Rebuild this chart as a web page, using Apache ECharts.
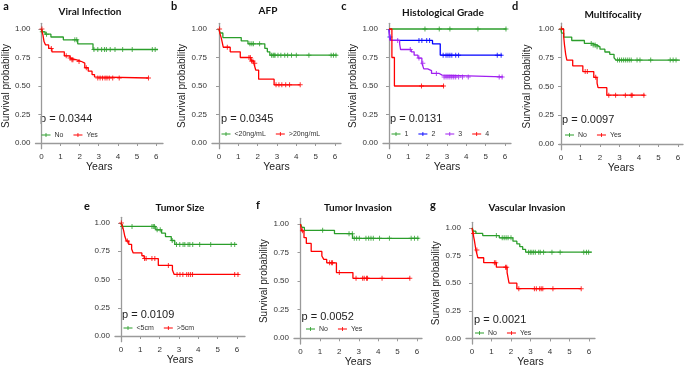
<!DOCTYPE html>
<html>
<head>
<meta charset="utf-8">
<script src="https://cdn.jsdelivr.net/npm/echarts@6/dist/echarts.min.js"></script>
<style>
  html, body { margin: 0; padding: 0; background: #fff; }
  #main { width: 685px; height: 369px; }
</style>
</head>
<body>
<div id="main"></div>
<script>
// axis ticks
var xTicks = [0, 1, 2, 3, 4, 5, 6];
var yTicks = [0, 0.25, 0.5, 0.75, 1];

// a - viral infection
var viralLabels = ['No', 'Yes'];
var viralNo = [[0,1],[0.03,0.975],[0.2,0.955],[0.5,0.93],[1.15,0.905],[1.9,0.87],[2.7,0.82],[6.1,0.82]];
var viralNoCens = [0.05,0.27,1.75,1.85,2.75,2.95,3.15,3.3,3.4,3.6,3.85,4.25,4.75,5.8,5.95];
var viralYes = [[0,1],[0.08,0.95],[0.14,0.89],[0.22,0.86],[0.38,0.83],[0.55,0.8],[1.2,0.765],[1.5,0.745],[1.6,0.73],[1.85,0.715],[2.1,0.7],[2.27,0.66],[2.45,0.63],[2.65,0.6],[2.78,0.58],[2.84,0.57],[5.6,0.57]];
var viralYesCens = [0.03,0.52,1.3,1.5,1.6,1.65,1.97,2.35,2.95,3.07,3.2,3.33,3.43,3.55,3.73,4.07,5.6];

// b - AFP
var afpLabels = ['<20ng/mL', '>20ng/mL'];
var afpLow = [[0,1],[0.05,0.965],[0.2,0.925],[1.15,0.895],[1.5,0.87],[2.37,0.83],[2.5,0.8],[2.63,0.77],[6.12,0.77]];
var afpLowCens = [1.6,1.7,1.78,2.1,2.72,2.8,2.85,2.9,3.05,3.2,3.4,3.55,3.75,4.0,4.65,5.8,5.92,6.05];
var afpHigh = [[0,1],[0.05,0.96],[0.12,0.92],[0.22,0.84],[0.58,0.8],[1.1,0.75],[1.65,0.72],[1.8,0.7],[1.9,0.64],[2.05,0.56],[2.85,0.51],[4.2,0.51]];
var afpHighCens = [0.03,0.43,1.55,1.62,1.68,1.75,1.85,2.95,3.1,3.25,3.45,3.65,4.2];

// c - histological grade
var gradeLabels = ['1', '2', '3', '4'];
var grade1 = [[0,1],[6.08,1]];
var grade1Cens = [1.86,2.6,3.15,4.6,6.05];
var grade2 = [[0,1],[0.03,0.93],[0.1,0.9],[2.25,0.87],[2.65,0.77],[5.85,0.77]];
var grade2Cens = [0.05,1.55,1.7,1.95,2.1,2.8,2.95,3.05,3.15,3.25,3.45,3.6,5.6,5.8];
var grade3 = [[0,1],[0.05,0.9],[0.55,0.87],[0.6,0.82],[1.15,0.8],[1.3,0.77],[1.5,0.745],[1.7,0.7],[1.8,0.65],[2.0,0.635],[2.2,0.61],[2.6,0.595],[2.75,0.58],[5.9,0.58]];
var grade3Cens = [0.45,1.1,1.55,1.75,2.45,2.85,2.95,3.05,3.15,3.25,3.35,3.45,3.6,3.8,4.1,5.7,5.85];
var grade4 = [[0,1],[0.15,0.75],[0.28,0.5],[2.85,0.5]];
var grade4Cens = [1.68,2.82];

// d - multifocality
var multiLabels = ['No', 'Yes'];
var multiNo = [[0,1],[0.03,0.965],[0.14,0.93],[0.55,0.9],[1.2,0.875],[1.6,0.86],[1.85,0.845],[2.0,0.825],[2.25,0.8],[2.5,0.78],[2.72,0.75],[2.82,0.73],[6.1,0.73]];
var multiNoCens = [0.02,1.55,1.65,1.75,1.85,2.9,3.0,3.1,3.2,3.3,3.4,3.5,3.6,3.9,4.05,4.6,5.6,5.75,5.9];
var multiYes = [[0,1],[0.14,0.93],[0.18,0.86],[0.24,0.78],[0.3,0.73],[0.6,0.68],[1.12,0.63],[1.68,0.58],[1.85,0.53],[1.9,0.49],[2.35,0.425],[4.3,0.425]];
var multiYesCens = [0.02,1.24,1.35,1.78,2.45,2.8,3.3,3.6,3.65,4.25];

// e - tumor size
var sizeLabels = ['<5cm', '>5cm'];
var sizeSmall = [[0,1],[0.05,0.97],[1.8,0.94],[2.1,0.91],[2.3,0.88],[2.6,0.845],[2.78,0.81],[6.0,0.81]];
var sizeSmallCens = [0.08,0.57,1.6,1.67,1.73,1.87,2.03,2.65,2.87,3.04,3.21,3.3,3.47,3.56,3.71,4.07,4.64,5.7,5.88];
var sizeLarge = [[0,1],[0.08,0.97],[0.14,0.93],[0.2,0.88],[0.28,0.84],[0.4,0.81],[0.55,0.77],[0.63,0.735],[1.08,0.71],[1.2,0.685],[1.93,0.625],[2.66,0.585],[2.75,0.545],[6.1,0.545]];
var sizeLargeCens = [0.02,0.33,1.22,1.3,1.6,1.75,2.45,2.9,3.05,3.2,3.4,3.5,3.6,3.7,5.88,6.05];

// f - tumor invasion
var tumInvLabels = ['No', 'Yes'];
var tumInvNo = [[0,1],[0.08,0.97],[0.2,0.945],[1.75,0.915],[2.68,0.875],[6.1,0.875]];
var tumInvNoCens = [1.14,2.5,2.67,2.77,2.89,3.03,3.37,3.51,3.63,3.75,4.07,4.58,5.7,5.87,6.04];
var tumInvYes = [[0,1],[0.05,0.94],[0.18,0.88],[0.3,0.83],[0.55,0.76],[1.1,0.72],[1.2,0.69],[1.35,0.66],[1.85,0.575],[2.7,0.525],[5.65,0.525]];
var tumInvYesCens = [0.1,1.5,1.6,1.65,2.0,2.86,3.2,3.28,3.4,3.45,4.2,5.63];

// g - vascular invasion
var vasInvLabels = ['No', 'Yes'];
var vasInvNo = [[0,1],[0.08,0.97],[0.2,0.95],[0.55,0.93],[1.4,0.91],[2.1,0.88],[2.3,0.855],[2.45,0.83],[2.6,0.805],[2.75,0.78],[6.15,0.78]];
var vasInvNoCens = [1.25,1.55,1.65,1.75,1.85,2.0,2.9,2.99,3.07,3.16,3.25,3.42,3.5,3.67,4.1,4.52,5.73,5.87,5.98];
var vasInvYes = [[0,1],[0.05,0.95],[0.12,0.89],[0.2,0.8],[0.3,0.73],[0.6,0.685],[1.25,0.645],[1.8,0.595],[1.9,0.5],[2.3,0.45],[5.6,0.45]];
var vasInvYesCens = [0.08,0.25,1.15,1.22,1.72,1.78,2.4,3.2,3.3,3.47,3.55,3.63,4.15,5.6];

var GREEN = '#2b9e2b', RED = '#ff0000', BLUE = '#0000ff', PURPLE = '#a020f0';
var plusPath = 'path://M0,4h10v2h-10z M4,0h2v10h-2z';
var legendIcon = 'path://M0,4h22v2h-22z M10,0h2v10h-2z';
var sans = "'Liberation Sans', Arial, sans-serif";

// pixel layout of each panel (yGap = 0 -> no y axis title)
var panels = [
  {letter:'a', title:'Viral Infection', p:'p = 0.0344', labels:viralLabels, curves:[viralNo,viralYes], cens:[viralNoCens,viralYesCens], colors:[GREEN,RED],
   ax:33, x0:39, x6:156, xR:163, y1:29, y0:143, tx:90, ty:12, lx:6, ly:6, px:40, py:119, lgx:41.5, lgy:136, yGap:22},
  {letter:'b', title:'AFP', p:'p = 0.0345', labels:afpLabels, curves:[afpLow,afpHigh], cens:[afpLowCens,afpHighCens], colors:[GREEN,RED],
   ax:212, x0:219, x6:335, xR:341, y1:29, y0:143, tx:268, ty:11, lx:174, ly:6, px:221, py:119, lgx:221.5, lgy:135, yGap:20},
  {letter:'c', title:'Histological Grade', p:'p = 0.0131', labels:gradeLabels, curves:[grade1,grade2,grade3,grade4], cens:[grade1Cens,grade2Cens,grade3Cens,grade4Cens], colors:[GREEN,BLUE,PURPLE,RED],
   ax:383, x0:389, x6:505, xR:511, y1:29, y0:143, tx:443, ty:13, lx:344, ly:6, px:390, py:119, lgx:391.5, lgy:135, yGap:22},
  {letter:'d', title:'Multifocality', p:'p = 0.0097', labels:multiLabels, curves:[multiNo,multiYes], cens:[multiNoCens,multiYesCens], colors:[GREEN,RED],
   ax:559, x0:561, x6:678, xR:683, y1:29, y0:144, tx:613, ty:15, lx:515, ly:6, px:562, py:120, lgx:565, lgy:136, yGap:27},
  {letter:'e', title:'Tumor Size', p:'p = 0.0109', labels:sizeLabels, curves:[sizeSmall,sizeLarge], cens:[sizeSmallCens,sizeLargeCens], colors:[GREEN,RED],
   ax:115, x0:121, x6:237, xR:245, y1:223, y0:336, tx:180, ty:208, lx:87, ly:206, px:122, py:315, lgx:123.5, lgy:329, yGap:0},
  {letter:'f', title:'Tumor Invasion', p:'p = 0.0052', labels:tumInvLabels, curves:[tumInvNo,tumInvYes], cens:[tumInvNoCens,tumInvYesCens], colors:[GREEN,RED],
   ax:294, x0:300.5, x6:417, xR:422, y1:224, y0:338.5, tx:358, ty:208, lx:258, ly:205, px:301.5, py:316.5, lgx:306, lgy:330, yGap:23},
  {letter:'g', title:'Vascular Invasion', p:'p = 0.0021', labels:vasInvLabels, curves:[vasInvNo,vasInvYes], cens:[vasInvNoCens,vasInvYesCens], colors:[GREEN,RED],
   ax:466, x0:472, x6:589, xR:595, y1:228, y0:341, tx:527, ty:208, lx:433, ly:205, px:474, py:319.5, lgx:475, lgy:334, yGap:23}
];

function survAt(steps, t) {
  var s = steps[0][1];
  for (var i = 0; i < steps.length; i++) {
    if (steps[i][0] <= t) s = steps[i][1];
  }
  return s;
}

var axisColor = '#9a9a9a';
var grids = [], xAxes = [], yAxes = [], series = [], legends = [], graphics = [];

panels.forEach(function (pn, i) {
  var ppy = (pn.x6 - pn.x0) / 6;
  var ppu = pn.y0 - pn.y1;
  grids.push({left: pn.ax, top: pn.y1 - 0.05 * ppu, width: pn.xR - pn.ax, height: 1.1 * ppu});
  xAxes.push({
    type: 'value', gridIndex: i,
    min: (pn.ax - pn.x0) / ppy, max: 6 + (pn.xR - pn.x6) / ppy,
    axisLine: {show: true, lineStyle: {color: axisColor, width: 1.3}},
    axisTick: {show: true, length: 3, customValues: xTicks, lineStyle: {color: axisColor, width: 1}},
    axisLabel: {customValues: xTicks, fontSize: 8, color: '#333', margin: 4, fontFamily: sans},
    splitLine: {show: false},
    name: 'Years', nameLocation: 'middle', nameGap: 13,
    nameTextStyle: {fontSize: 10.5, color: '#222', fontFamily: sans}
  });
  yAxes.push({
    type: 'value', gridIndex: i, min: -0.05, max: 1.05,
    axisLine: {show: true, lineStyle: {color: axisColor, width: 1.3}},
    axisTick: {show: true, length: 3, customValues: yTicks, lineStyle: {color: axisColor, width: 1}},
    axisLabel: {customValues: yTicks, fontSize: 8, color: '#333', margin: 5, fontFamily: sans,
      formatter: function (v) { return v.toFixed(2); }},
    splitLine: {show: false},
    name: pn.yGap ? 'Survival probability' : '', nameLocation: 'middle', nameRotate: 90, nameGap: pn.yGap,
    nameTextStyle: {fontSize: 10, color: '#222', fontFamily: sans}
  });
  pn.curves.forEach(function (steps, k) {
    var col = pn.colors[k];
    series.push({
      type: 'line', name: pn.labels[k], xAxisIndex: i, yAxisIndex: i, step: 'end',
      data: steps, symbol: 'none', showSymbol: false, silent: true,
      lineStyle: {color: col, width: 1.3}, itemStyle: {color: col}
    });
  });
  pn.curves.forEach(function (steps, k) {
    var col = pn.colors[k];
    series.push({
      type: 'scatter', name: pn.labels[k] + ' censored', xAxisIndex: i, yAxisIndex: i,
      data: pn.cens[k].map(function (t) { return [t, survAt(steps, t)]; }),
      symbol: plusPath, symbolSize: 5, silent: true,
      itemStyle: {color: col}
    });
  });
  legends.push({
    data: pn.labels, left: pn.lgx, top: pn.lgy - 4.5, orient: 'horizontal',
    icon: legendIcon, itemWidth: 9, itemHeight: 5, itemGap: 10, padding: 0,
    selectedMode: false,
    textStyle: {fontSize: 7, color: '#333', fontFamily: sans, padding: [0, 0, 0, -1]}
  });
  graphics.push({type: 'text', x: pn.tx, y: pn.ty,
    style: {text: pn.title, align: 'center', verticalAlign: 'middle', fill: '#111',
      font: "bold 10px Lato, 'Liberation Sans', sans-serif"}});
  graphics.push({type: 'text', x: pn.lx, y: pn.ly,
    style: {text: pn.letter, align: 'center', verticalAlign: 'middle', fill: '#111',
      font: "bold 11px Lato, 'Liberation Sans', sans-serif"}});
  graphics.push({type: 'text', x: pn.px, y: pn.py,
    style: {text: pn.p, align: 'left', verticalAlign: 'middle', fill: '#222',
      font: "11px 'Liberation Sans', Arial, sans-serif"}});
});

var chart = echarts.init(document.getElementById('main'), null, {renderer: 'canvas'});
chart.setOption({
  animation: false,
  backgroundColor: '#fff',
  grid: grids,
  xAxis: xAxes,
  yAxis: yAxes,
  legend: legends,
  series: series,
  graphic: graphics
});
</script>
</body>
</html>
